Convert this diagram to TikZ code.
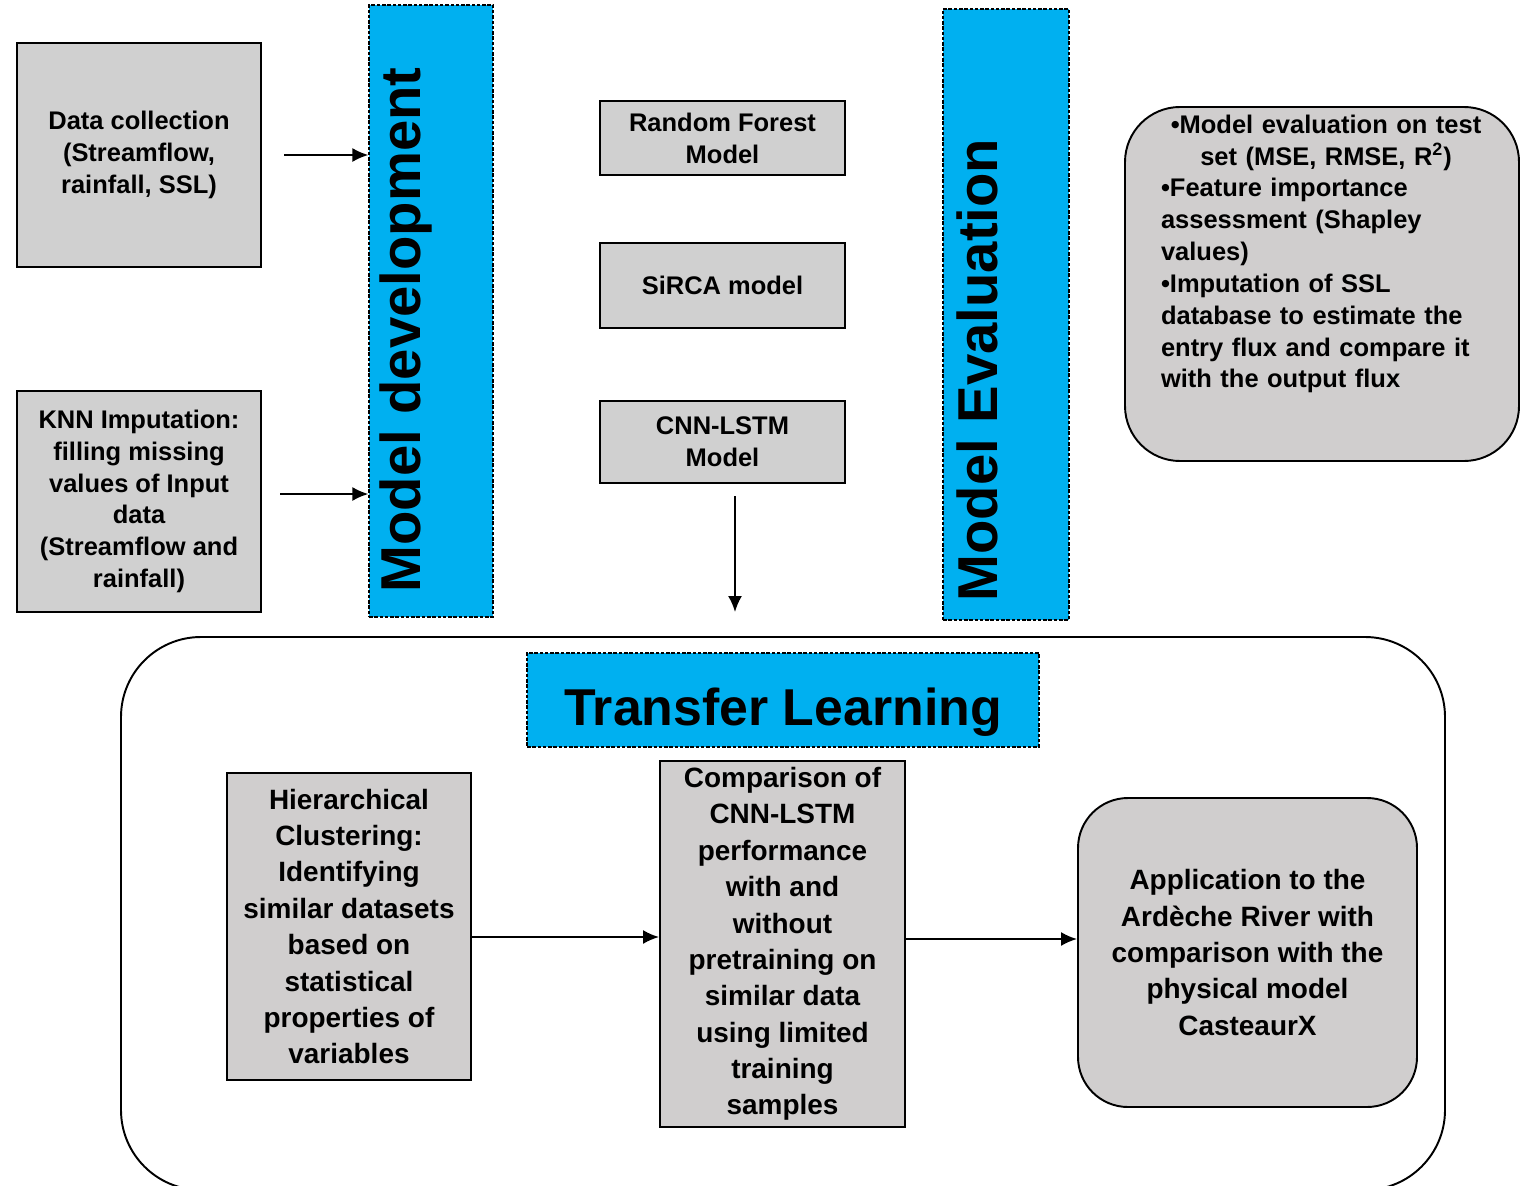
\documentclass[tikz,border=0pt]{standalone}
\usepackage{fontspec}
\setmainfont{Liberation Sans}
\usetikzlibrary{arrows.meta}
\definecolor{boxgray}{RGB}{208,208,208}
\definecolor{lowgray}{RGB}{208,206,206}
\definecolor{stageblue}{RGB}{0,176,240}
\newcommand{\topfont}{\fontsize{14.5}{18.1}\selectfont\bfseries}
\newcommand{\lowfont}{\fontsize{15.9}{20.7}\selectfont\bfseries}
\newcommand{\barfont}{\fontsize{32}{36}\selectfont\bfseries}

\begin{document}
\begin{tikzpicture}[
		graybox/.style={rectangle,draw=black,fill=boxgray,line width=1.4pt,
		inner sep=0pt,align=center,font=\topfont},
		lowbox/.style={rectangle,draw=black,fill=lowgray,line width=1.1pt,
		inner sep=0pt,align=center,font=\lowfont},
		roundbox/.style={rectangle,draw=black,fill=lowgray,line width=1.1pt,
		inner sep=0pt},
		stagebar/.style={rectangle,draw=black,fill=stageblue,line width=0.7pt,
		dash pattern=on 2pt off 1pt,inner sep=0pt},
		stagetext/.style={font=\barfont,inner sep=0pt,rotate=90},
		arrow/.style={draw=black,line width=1.1pt,-{Latex[length=3.2mm,width=2.8mm]}}
		]
		\useasboundingbox (0,0) rectangle (30.66,-23.70);
		% input data
		\node[graybox, minimum width=4.88cm, minimum height=4.48cm] (data) at (2.78,-3.10)
			{Data collection\\(Streamflow,\\rainfall, SSL)};
		\node[graybox, minimum width=4.88cm, minimum height=4.42cm] (knn) at (2.78,-10.03)
			{KNN Imputation:\\filling missing\\values of Input\\data\\(Streamflow and\\rainfall)};
		% model development
		\node[stagebar, minimum width=2.48cm, minimum height=12.24cm] (devbar) at (8.62,-6.22) {};
		\node[stagetext] (devlabel) at (8.12,-6.60) {Model development};
		\node[graybox, minimum width=4.90cm, minimum height=1.48cm] (rf) at (14.45,-2.76)
			{Random Forest\\Model};
		\node[graybox, minimum width=4.90cm, minimum height=1.70cm] (sirca) at (14.45,-5.71)
			{SiRCA model};
		\node[graybox, minimum width=4.90cm, minimum height=1.64cm] (cnn) at (14.45,-8.84)
			{CNN-LSTM\\Model};
		% model evaluation
		\node[stagebar, minimum width=2.52cm, minimum height=12.22cm] (evalbar) at (20.12,-6.29) {};
		\node[stagetext] (evallabel) at (19.54,-7.40) {Model Evaluation};
		\node[roundbox, rounded corners=1.1cm, minimum width=7.88cm, minimum height=7.08cm]
			(evalbox) at (26.44,-5.68) {};
		\node[font=\topfont, text width=6.6cm, align=left, inner sep=0pt] (evaltext) at (26.52,-5.08)
			{{\centering •Model evaluation on test\\set (MSE, RMSE, R\textsuperscript{2})\par}
			•Feature importance\\assessment (Shapley\\values)\\•Imputation of SSL\\database to estimate the\\entry flux and compare it\\with the output flux};
		\draw[arrow] ([xshift=0.44cm]data.east) -- (data.east -| devbar.west);
		\draw[arrow] ([xshift=0.36cm,yshift=0.15cm]knn.east) -- ([yshift=0.15cm]knn.east -| devbar.west);
		% transfer learning
		\node[draw=black, line width=1.1pt, rounded corners=1.6cm, minimum width=26.48cm,
			minimum height=11.06cm, inner sep=0pt] (tlframe) at (15.66,-18.27) {};
		\coordinate (tltop) at (14.70,-12.24);
		\draw[arrow] ([xshift=0.25cm,yshift=-0.24cm]cnn.south) -- (tltop);
		\node[stagebar, minimum width=10.24cm, minimum height=1.88cm, text height=1.0cm, text depth=0cm,
			font=\fontsize{29.5}{33}\selectfont\bfseries] (tlbar) at (15.66,-14.00) {Transfer Learning};
		\node[lowbox, minimum width=4.88cm, minimum height=6.14cm] (hier) at (6.98,-18.53)
			{Hierarchical\\Clustering:\\Identifying\\similar datasets\\based on\\statistical\\properties of\\variables};
		\node[lowbox, minimum width=4.90cm, minimum height=7.32cm] (comp) at (15.65,-18.88)
			{Comparison of\\CNN-LSTM\\performance\\with and\\without\\pretraining on\\similar data\\using limited\\training\\samples};
		\node[roundbox, rounded corners=1.0cm, minimum width=6.78cm, minimum height=6.18cm,
			align=center, font=\lowfont] (app) at (24.95,-19.05)
			{Application to the\\Ardèche River with\\comparison with the\\physical model\\CasteaurX};
		\draw[arrow] ([yshift=-0.21cm]hier.east) -- ([yshift=-0.21cm]hier.east -| comp.west);
		\draw[arrow] ([yshift=0.10cm]comp.east) -- ([yshift=0.10cm]comp.east -| app.west);
	\end{tikzpicture}
\end{document}
